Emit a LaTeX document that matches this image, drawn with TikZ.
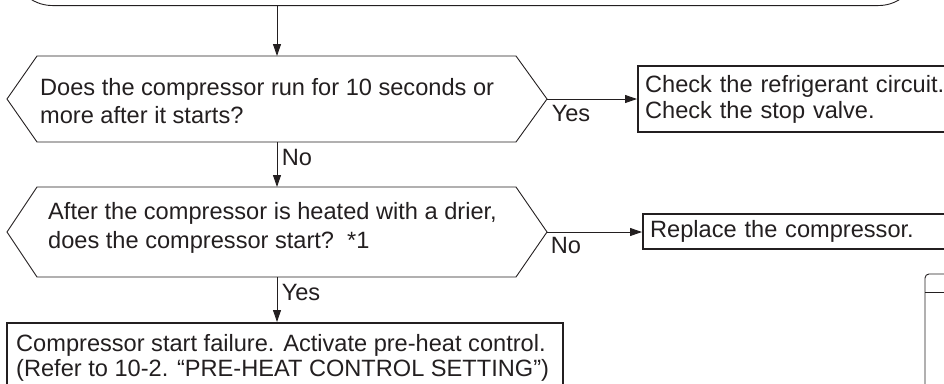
\documentclass[tikz,border=0pt]{standalone}
\usepackage{fontspec}
\setmainfont{Liberation Sans}
\usetikzlibrary{arrows.meta}
\definecolor{ink}{HTML}{231F20}
\tikzset{
  dec/.style={draw=ink, line width=0.9pt},
  boxn/.style={draw=ink, line width=2.3pt, anchor=north west, inner xsep=7pt, inner ysep=0pt, align=left, text=ink},
  txt/.style={text=ink, align=left, inner sep=0pt, font=\fontsize{23.6}{28}\selectfont},
  lbl/.style={text=ink, inner sep=0pt, font=\fontsize{23.6}{28}\selectfont},
  arr/.style={draw=ink, line width=0.9pt, -{Triangle[length=12pt,width=8pt]}},
}
\begin{document}
\begin{tikzpicture}[x=1pt,y=-1pt]
\useasboundingbox (0,0) rectangle (944,383);
\begin{scope}
\clip (0,0) rectangle (944,383);
% top rounded box
\node[draw=ink, line width=0.9pt, rounded corners=40pt, minimum width=906pt, minimum height=100pt, anchor=south west, inner sep=0pt] (top) at (12,6) {};
% decision 1
\coordinate (d1t) at (277,56);
\coordinate (d1b) at (277,142);
\coordinate (d1r) at (547,99);
\draw[dec] (37,56) -- (516,56) -- (d1r) -- (516,142) -- (37,142) -- (7,99) -- cycle;
\node[txt, anchor=west] (d1txt) at (40,101) {Does the compressor run for 10 seconds or\\more after it starts?};
% decision 2
\coordinate (d2t) at (277,187);
\coordinate (d2b) at (277,277);
\coordinate (d2r) at (547,232);
\draw[dec] (37,187) -- (516,187) -- (d2r) -- (516,277) -- (37,277) -- (7,232) -- cycle;
\node[txt, anchor=west, font=\fontsize{23.6}{29}\selectfont] (d2txt) at (48,228) {After the compressor is heated with a drier,\\does the compressor start?\ \ *1};
% result boxes
\node[boxn, minimum width=340pt, minimum height=66pt, text width=326pt, font=\fontsize{23.6}{26.5}\selectfont] (b1) at (637,65) {Check the refrigerant circuit.\\Check the stop valve.};
\node[boxn, minimum width=340pt, minimum height=35pt, text width=326pt, font=\fontsize{23.6}{28}\selectfont] (b2) at (642,213) {Replace the compressor.};
\node[boxn, minimum width=556pt, minimum height=100pt] (b3) at (6,322) {};
\node[txt, anchor=north west, font=\fontsize{23.6}{25}\selectfont] (b3txt) at (16,334) {Compressor start failure. Activate pre-heat control.\\(Refer to 10-2. “PRE-HEAT CONTROL SETTING”)};
% partial box bottom right
\draw[draw=ink, line width=0.9pt, rounded corners=4pt] (960,274) -- (925,274) -- (925,400);
\draw[draw=ink, line width=0.9pt] (925,292) -- (960,292);
% connectors
\draw[arr] (top.south -| d1t) -- (d1t);
\draw[arr] (d1r) -- (d1r -| b1.west);
\draw[arr] (d1b) -- (d2t);
\draw[arr] (d2r) -- (d2r -| b2.west);
\draw[arr] (d2b) -- (b3.north -| d2b);
% labels
\node[lbl] (l1) at (571,113) {Yes};
\node[lbl] (l2) at (297,157) {No};
\node[lbl] (l3) at (566,245) {No};
\node[lbl] (l4) at (301,292) {Yes};
\end{scope}
\end{tikzpicture}
\end{document}
